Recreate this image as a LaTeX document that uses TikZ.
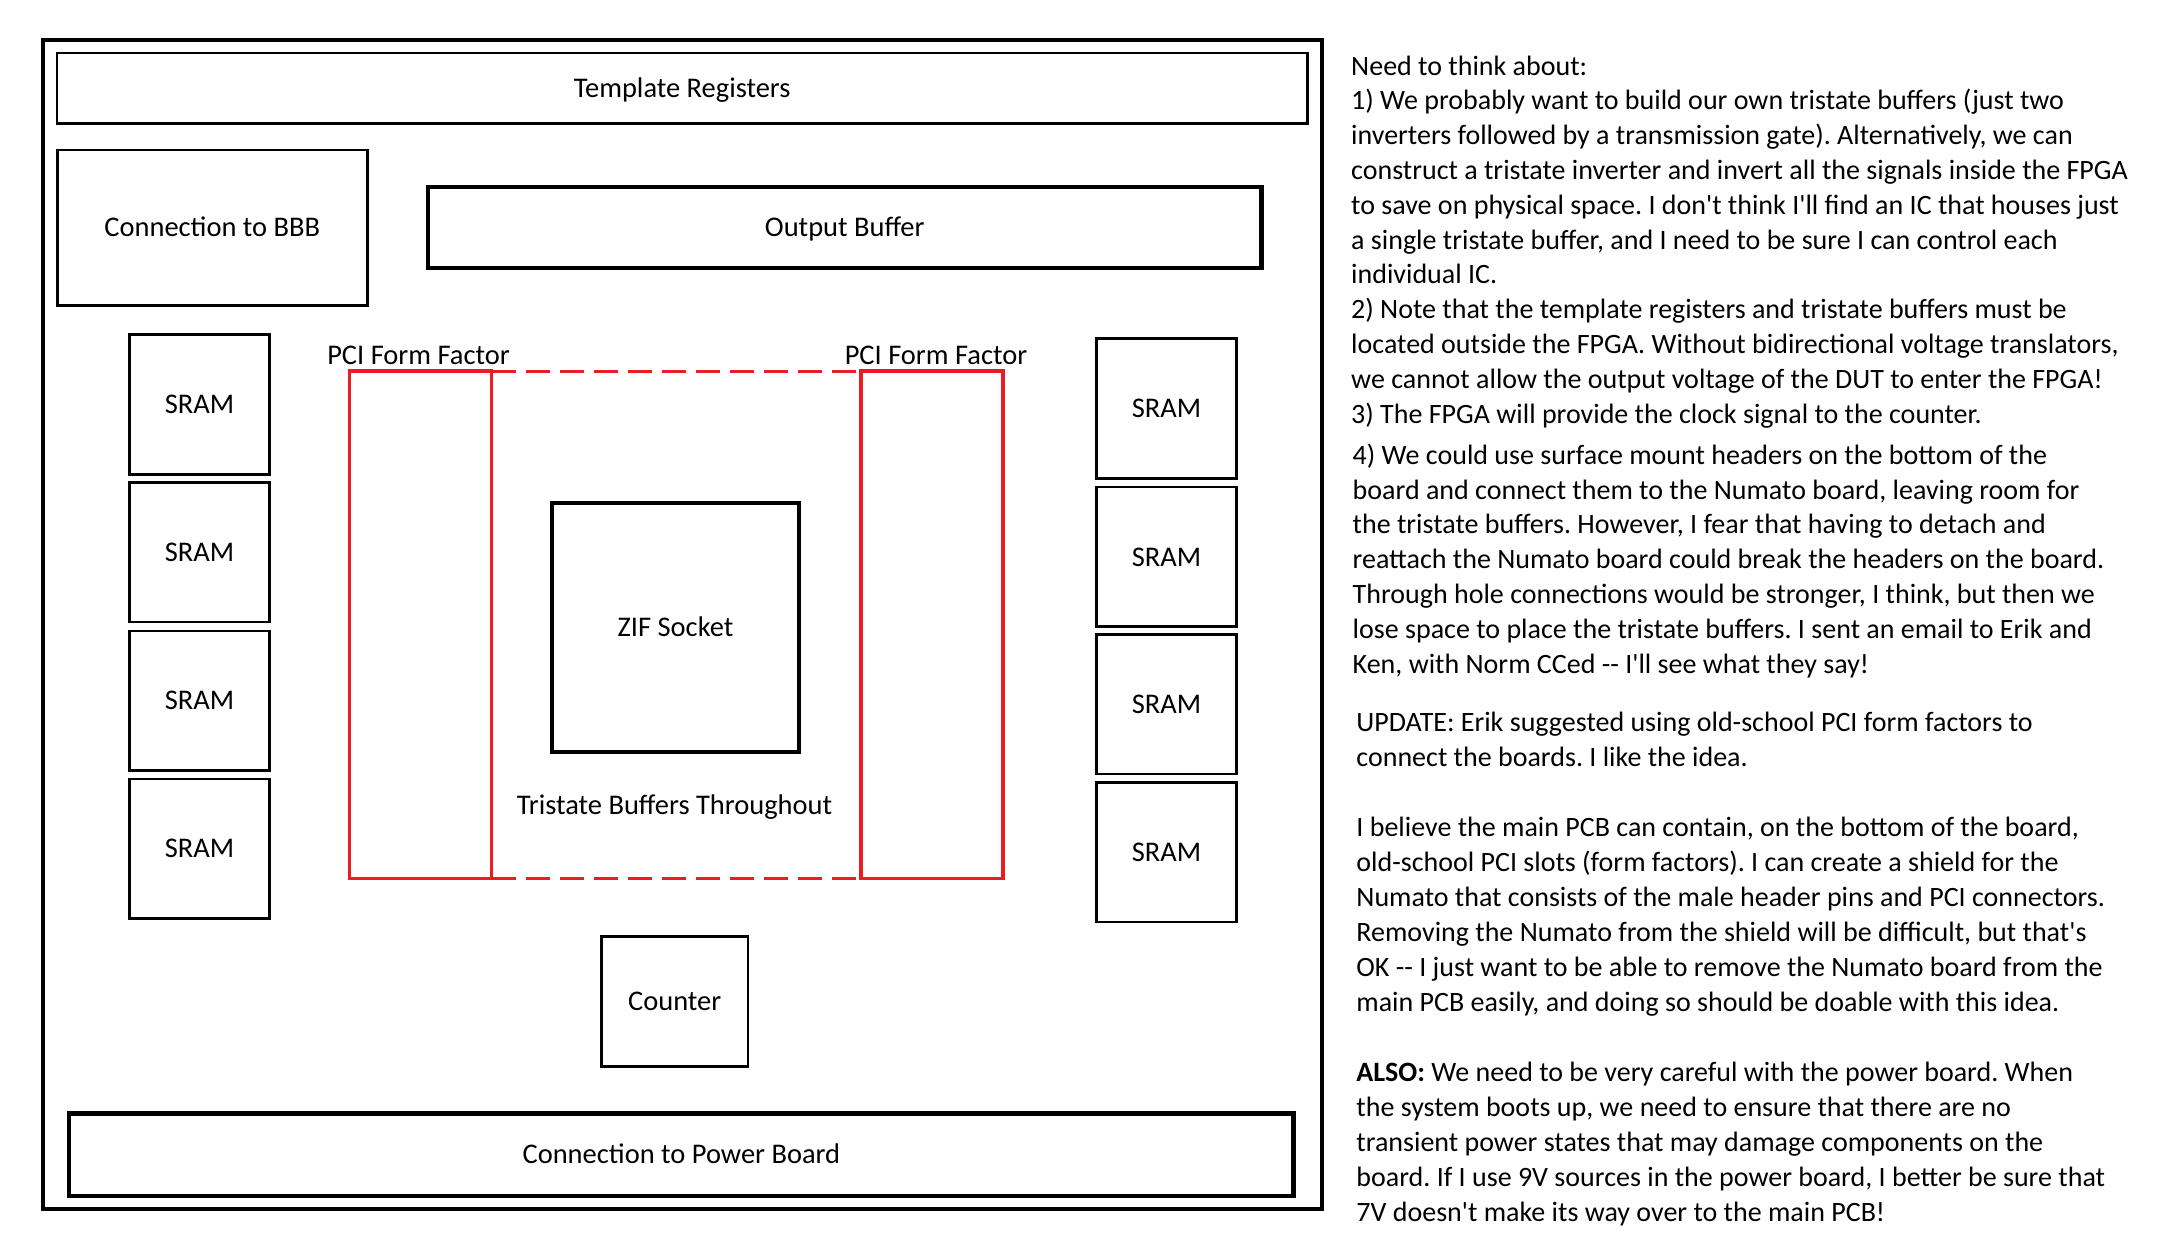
\documentclass[tikz,border=0pt]{standalone}
\usepackage{fontspec}
\setmainfont{Carlito}[Ligatures=TeXOff]
\newcommand{\lblfont}{\fontsize{8.1pt}{9.9pt}\selectfont}
\newcommand{\notefont}{\fontsize{7.97pt}{9.9pt}\selectfont\frenchspacing}
\definecolor{pcired}{HTML}{ED1C24}
\begin{document}
\begin{tikzpicture}[x=0.1mm,y=-0.1mm,
  box/.style={draw=black, line width=0.26mm, rectangle, inner sep=0pt, outer sep=0pt,
    text height=1.84mm, text depth=0pt, font=\lblfont, align=center},
  thickbox/.style={box, line width=0.43mm},
  pcibox/.style={draw=pcired, line width=0.35mm, rectangle, inner sep=0pt, outer sep=0pt,
    minimum width=14.2mm, minimum height=50.73mm},
  sram/.style={box, minimum width=14mm, minimum height=13.95mm},
  lbl/.style={inner sep=0pt, text height=1.84mm, text depth=0pt, font=\lblfont},
  note/.style={anchor=base west, inner sep=0pt, font=\notefont},
  dashline/.style={draw=pcired, line width=0.26mm, dash pattern=on 2.4mm off 1mm}]
\useasboundingbox (0,0) rectangle (2160,1254);
\fill[white] (0,0) rectangle (2160,1254);

% board outline
\node[box, line width=0.4mm, minimum width=127.84mm, minimum height=116.97mm] (board) at (682.5,624.35) {};

\node[box, minimum width=125.07mm, minimum height=7.04mm] (tmpl) at (682.15,88.1) {Template Registers};
\node[box, minimum width=31mm, minimum height=15.54mm] (bbb) at (212.3,227.6) {Connection to BBB};
\node[thickbox, minimum width=83.35mm, minimum height=8.1mm] (outbuf) at (844.75,227.5) {Output Buffer};

% SRAMs left
\node[sram] (sl1) at (199.5,404.5) {SRAM};
\node[sram] (sl2) at (199.5,552.4) {SRAM};
\node[sram] (sl3) at (199.5,700.7) {SRAM};
\node[sram] (sl4) at (199.5,848.6) {SRAM};
% SRAMs right
\node[sram] (sr1) at (1166.5,408.5) {SRAM};
\node[sram] (sr2) at (1166.5,556.8) {SRAM};
\node[sram] (sr3) at (1166.5,704.2) {SRAM};
\node[sram] (sr4) at (1166.5,852.3) {SRAM};

% PCI form factors
\node[pcibox] (pcil) at (420.6,624.85) {};
\node[pcibox] (pcir) at (932.1,624.85) {};
\draw[dashline] (pcil.north east) -- (pcir.north west);
\draw[dashline] (pcil.south east) -- (pcir.south west);
\node[lbl] (pcillbl) at (418.5,355) {PCI Form Factor};
\node[lbl] (pcirlbl) at (936,355) {PCI Form Factor};

\node[thickbox, minimum width=24.7mm, minimum height=24.85mm] (zif) at (675.5,627.55) {ZIF Socket};
\node[lbl] (tri) at (674.5,805) {Tristate Buffers Throughout};
\node[box, minimum width=14.65mm, minimum height=13.01mm] (counter) at (674.75,1001.25) {Counter};
\node[thickbox, minimum width=122.42mm, minimum height=8.25mm] (power) at (681.4,1154.75) {Connection to Power Board};

% notes
\node[note] (n1) at (1350.5,75) {Need to think about:};
\node[note] (n2) at (1350.5,109.8) {1) We probably want to build our own tristate buffers (just two};
\node[note] (n3) at (1350.5,144.6) {inverters followed by a transmission gate). Alternatively, we can};
\node[note] (n4) at (1350.5,179.4) {construct a tristate inverter and invert all the signals inside the FPGA};
\node[note] (n5) at (1350.5,214.2) {to save on physical space. I don't think I'll find an IC that houses just};
\node[note] (n6) at (1350.5,249) {a single tristate buffer, and I need to be sure I can control each};
\node[note] (n7) at (1350.5,283.8) {individual IC.};
\node[note] (n8) at (1350.5,318.6) {2) Note that the template registers and tristate buffers must be};
\node[note] (n9) at (1350.5,353.4) {located outside the FPGA. Without bidirectional voltage translators,};
\node[note] (n10) at (1350.5,388.2) {we cannot allow the output voltage of the DUT to enter the FPGA!};
\node[note] (n11) at (1350.5,423) {3) The FPGA will provide the clock signal to the counter.};

\node[note] (n12) at (1352,464.3) {4) We could use surface mount headers on the bottom of the};
\node[note] (n13) at (1352,499.1) {board and connect them to the Numato board, leaving room for};
\node[note] (n14) at (1352,533.9) {the tristate buffers. However, I fear that having to detach and};
\node[note] (n15) at (1352,568.7) {reattach the Numato board could break the headers on the board.};
\node[note] (n16) at (1352,603.5) {Through hole connections would be stronger, I think, but then we};
\node[note] (n17) at (1352,638.3) {lose space to place the tristate buffers. I sent an email to Erik and};
\node[note] (n18) at (1352,673.1) {Ken, with Norm CCed -- I'll see what they say!};

\node[note] (n19) at (1355.7,731.3) {UPDATE: Erik suggested using old-school PCI form factors to};
\node[note] (n20) at (1355.7,766.3) {connect the boards. I like the idea.};
\node[note] (n21) at (1355.7,836.3) {I believe the main PCB can contain, on the bottom of the board,};
\node[note] (n22) at (1355.7,871.3) {old-school PCI slots (form factors). I can create a shield for the};
\node[note] (n23) at (1355.7,906.3) {Numato that consists of the male header pins and PCI connectors.};
\node[note] (n24) at (1355.7,941.3) {Removing the Numato from the shield will be difficult, but that's};
\node[note] (n25) at (1355.7,976.3) {OK -- I just want to be able to remove the Numato board from the};
\node[note] (n26) at (1355.7,1011.3) {main PCB easily, and doing so should be doable with this idea.};
\node[note] (n27) at (1355.7,1081.3) {{\bfseries ALSO:} We need to be very careful with the power board. When};
\node[note] (n28) at (1355.7,1116.3) {the system boots up, we need to ensure that there are no};
\node[note] (n29) at (1355.7,1151.3) {transient power states that may damage components on the};
\node[note] (n30) at (1355.7,1186.3) {board. If I use 9V sources in the power board, I better be sure that};
\node[note] (n31) at (1355.7,1221.3) {7V doesn't make its way over to the main PCB!};
\end{tikzpicture}
\end{document}
